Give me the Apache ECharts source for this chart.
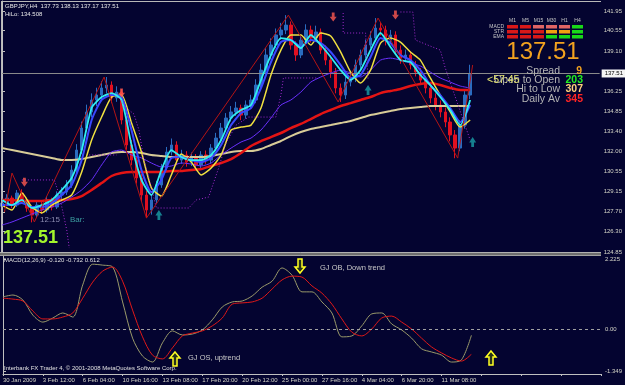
<!DOCTYPE html>
<html>
<head>
<meta charset="utf-8">
<script src="https://cdn.jsdelivr.net/npm/echarts@6/dist/echarts.min.js"></script>
<style>
html, body { margin: 0; padding: 0; background: #040430; }
#chart { width: 625px; height: 385px; }
</style>
</head>
<body>
<div id="chart"></div>
<script>
var chart = echarts.init(document.getElementById('chart'));

// GBPJPY H4 - one candle for every 2 bars
var candleStep = 2;
var opens = [128.10,128.32,128.68,128.18,129.03,128.54,127.97,127.47,128.18,127.83,
  128.54,128.04,128.89,129.10,129.60,130.66,132.08,133.64,134.78,135.63,
  135.98,136.48,136.69,135.77,136.19,134.21,132.44,131.37,130.10,128.89,
  127.83,128.54,129.60,130.81,131.94,132.44,131.37,131.73,131.23,131.51,
  131.02,131.73,131.37,132.22,132.93,133.64,134.35,134.78,135.06,134.56,
  135.27,135.63,136.69,137.75,138.82,139.53,140.24,140.59,140.94,139.53,
  138.82,139.88,140.59,140.02,140.45,139.17,138.46,137.61,136.48,135.98,
  136.90,137.19,138.11,138.82,139.53,140.02,140.73,140.59,139.88,140.24,
  139.17,138.60,138.82,138.11,137.61,137.04,136.48,135.77,135.27,134.78,
  134.07,133.15,132.22,133.85,135.98];
var closes = [128.32,128.68,128.18,129.03,128.54,127.97,127.47,128.18,127.83,128.54,
  128.04,128.89,129.10,129.60,130.66,132.08,133.64,134.78,135.63,135.98,
  136.48,136.69,135.77,136.19,134.21,132.44,131.37,130.10,128.89,127.83,
  128.54,129.60,130.81,131.94,132.44,131.37,131.73,131.23,131.51,131.02,
  131.73,131.37,132.22,132.93,133.64,134.35,134.78,135.06,134.56,135.27,
  135.63,136.69,137.75,138.82,139.53,140.24,140.59,140.94,139.53,138.82,
  139.88,140.59,140.02,140.45,139.17,138.46,137.61,136.48,135.98,136.90,
  137.19,138.11,138.82,139.53,140.02,140.73,140.59,139.88,140.24,139.17,
  138.60,138.82,138.11,137.61,137.04,136.48,135.77,135.27,134.78,134.07,
  133.15,132.22,133.85,135.98,137.51];
var highs = [128.55,128.95,128.85,129.25,129.30,128.70,128.10,128.40,128.45,128.80,
  128.70,129.15,129.45,129.95,131.00,132.50,134.10,135.30,136.10,136.50,
  136.95,137.26,136.95,136.60,136.40,134.50,132.80,131.60,130.40,129.20,
  128.90,129.90,131.10,132.30,132.90,132.70,132.10,132.00,131.90,131.80,
  132.00,132.05,132.50,133.30,134.00,134.70,135.20,135.50,135.30,135.60,
  136.00,137.10,138.20,139.30,140.00,140.70,141.10,141.65,141.20,139.80,
  140.20,141.00,140.90,140.90,140.70,139.50,138.80,137.90,136.80,137.30,
  137.60,138.50,139.20,139.90,140.50,141.44,141.10,140.90,140.60,140.50,
  139.50,139.20,139.10,138.40,137.90,137.30,136.80,136.10,135.60,135.10,
  134.40,133.50,134.20,136.40,138.13];
var lows = [127.90,128.15,127.95,128.05,128.35,127.70,126.95,127.30,127.55,127.65,
  127.80,127.90,128.60,128.90,129.40,130.40,131.80,133.40,134.40,135.20,
  135.60,136.10,135.40,135.50,133.90,132.10,131.00,129.70,128.40,127.25,
  127.50,128.30,129.40,130.60,131.70,131.00,131.10,130.90,130.95,130.70,
  130.80,131.10,131.15,132.00,132.70,133.40,134.10,134.50,134.20,134.30,
  135.00,135.40,136.50,137.50,138.50,139.30,139.90,140.30,139.20,138.40,
  138.60,139.60,139.70,139.80,138.90,138.10,137.20,136.10,135.49,135.70,
  136.60,136.90,137.80,138.60,139.30,139.80,140.20,139.50,139.60,138.90,
  138.20,138.30,137.80,137.30,136.70,136.10,135.40,134.90,134.40,133.70,
  132.70,131.50,132.00,133.60,135.70];

// moving averages, one point every 4 bars
var lineStep = 4;
var maCyan = [128.54,128.18,128.54,127.97,128.18,128.54,129.25,130.10,132.08,135.06,
  135.84,136.12,135.63,132.44,129.96,128.89,130.66,132.08,131.59,131.37,
  131.37,131.73,132.79,134.35,134.92,135.27,137.05,138.82,140.02,139.88,
  139.31,140.24,139.53,138.68,137.75,137.05,137.75,139.17,140.38,139.39,
  138.46,138.32,137.40,136.69,135.84,134.92,133.85,135.63];
var maBlue = [128.18,128.18,128.32,128.04,128.04,128.32,128.89,129.60,131.37,134.21,
  135.63,135.98,135.84,133.50,130.66,129.10,129.96,131.52,131.59,131.37,
  131.23,131.52,132.44,133.85,134.71,135.06,136.48,138.32,139.74,139.88,
  139.39,139.88,139.67,139.03,138.11,137.19,137.40,138.68,140.02,139.67,
  138.82,138.46,137.75,136.69,135.98,135.06,134.07,135.27];
var maYellow = [128.18,127.83,129.03,128.04,127.62,128.18,128.54,128.89,130.52,132.79,
  134.42,135.84,135.98,134.00,131.94,129.39,128.82,130.31,131.80,131.23,
  130.31,130.81,131.73,133.50,133.71,133.85,135.06,137.40,139.17,140.24,
  140.24,139.53,140.38,140.17,139.03,137.61,136.83,137.75,139.67,140.02,
  139.74,139.03,138.46,137.19,135.98,134.78,133.71,134.21];
var maViolet = [126.76,126.98,127.26,127.54,127.83,128.04,128.32,128.75,129.25,129.96,
  131.02,131.94,132.08,131.73,131.52,131.16,130.88,130.95,131.16,131.09,
  130.95,131.16,131.73,132.22,132.65,132.93,133.50,134.35,135.27,135.63,
  136.19,136.90,137.26,137.54,137.75,137.54,137.26,137.75,138.46,138.60,
  138.46,138.25,138.04,137.61,137.19,136.90,136.62,136.48];
var maRed = [128.54,128.54,128.47,128.47,128.47,128.54,128.54,128.61,128.82,129.25,
  129.74,130.24,130.45,130.52,130.52,130.52,130.52,130.59,130.59,130.66,
  130.73,130.95,131.16,131.44,131.87,132.37,132.72,133.00,133.29,133.64,
  133.93,134.28,134.63,134.92,135.20,135.41,135.63,135.84,136.12,136.27,
  136.41,136.62,136.76,136.83,136.69,136.48,136.34,136.34];
var maBeige = [132.22,132.08,131.94,131.80,131.66,131.52,131.37,131.37,131.44,131.59,
  131.73,131.87,131.94,131.94,131.87,131.73,131.66,131.59,131.59,131.59,
  131.59,131.66,131.80,131.94,132.01,132.01,132.15,132.44,132.72,133.07,
  133.36,133.57,133.71,133.85,134.00,134.14,134.35,134.56,134.71,134.85,
  134.99,135.06,135.13,135.20,135.20,135.20,135.20,135.20];

// zigzag turning points [bar, price]
var zigzag = [[1,127.69],[4,130.45],[13,126.98],[41,137.26],[58,127.26],[115,141.65],
  [135,135.49],[151,141.44],[183,131.51],[189,138.11]];

// dotted trailing stop, pieces [bar, price]
var trailPieces = [
  [[8,129.96],[21,129.96],[23,128.89],[26,126.41],[27,125.13]],
  [[35,131.73],[46,131.73]],
  [[47,135.77],[50,135.06],[53,134.63],[55,133.50],[57,131.37],[59,130.10],[62,127.97],
   [75,127.97],[78,128.54],[83,128.75],[87,130.81],[90,132.58],[94,133.85],[99,134.42],
   [110,134.42],[112,135.98],[113,137.19],[127,137.19]],
  [[137,141.80],[137,140.38],[146,140.38],[147,137.05]],
  [[160,141.87],[165,141.87],[166,139.88],[176,139.17],[178,137.90],[188,132.79]]
];

// fractal arrows [bar, price]
var fractalDown = [[9,129.80],[48,136.12],[133,141.51],[158,141.65]];
var fractalUp = [[63,127.47],[147,136.34],[189,132.65]];

// MACD(12,26,9), one point every 4 bars
var macdMain = [1.02,1.08,0.92,0.44,0.22,0.35,0.51,0.38,1.40,2.06,
  2.03,1.97,0.86,-0.29,-0.86,-1.05,-0.44,-0.06,-0.19,-0.16,
  -0.03,0.29,0.70,0.86,0.89,1.05,1.33,1.52,1.94,1.71,
  1.18,1.18,0.86,0.51,-0.25,-0.22,0.10,0.48,0.51,0.16,
  -0.03,-0.29,-0.63,-0.73,-0.83,-1.05,-0.98,-0.20];
var macdSignal = [0.98,0.95,0.89,0.57,0.32,0.32,0.38,0.51,0.98,1.49,
  1.84,1.97,1.52,0.60,-0.25,-0.83,-0.95,-0.60,-0.22,-0.13,
  -0.06,0.10,0.35,0.79,0.83,0.86,0.98,1.27,1.56,1.68,
  1.65,1.37,1.14,0.79,0.32,-0.10,-0.22,0.00,0.35,0.41,
  0.22,0.00,-0.29,-0.57,-0.76,-0.92,-1.02,-0.80];

// axis ticks
var priceTicks = [124.85,126.30,127.70,129.15,130.55,132.00,133.40,134.85,136.25,139.10,140.55,141.95];
var macdTicks = [2.225, 0, -1.349];
var macdTickLabels = ['2.225', '0.00', '-1.349'];
var timeLabels = ['30 Jan 2009','3 Feb 12:00','6 Feb 04:00','10 Feb 16:00','13 Feb 08:00','17 Feb 20:00',
  '20 Feb 12:00','25 Feb 00:00','27 Feb 16:00','4 Mar 04:00','6 Mar 20:00','11 Mar 08:00'];
var lastPrice = 137.51;

// dashboard cells
var tfNames = ['M1','M5','M15','M30','H1','H4'];
var rowNames = ['MACD','STR','EMA'];
var cellColors = [
  ['#d81818','#d81818','#e06464','#e06464','#e06464','#18d818'],
  ['#d81818','#d81818','#d81818','#f0a010','#f0a010','#18d818'],
  ['#d81818','#d81818','#d81818','#18d818','#18d818','#18d818']
];

var FONT = 'Liberation Sans';
var AXIS_TXT = '#d6d6c8';

function pts(arr, step) {
  return arr.map(function (v, i) { return [i * step, v]; });
}

var candleData = closes.map(function (c, i) {
  return [i * candleStep, opens[i], c, lows[i], highs[i]];
});

function maSeries(data, color, width, z) {
  return {
    type: 'line', xAxisIndex: 0, yAxisIndex: 0, data: pts(data, lineStep),
    symbol: 'none', smooth: 0.2, z: z, silent: true,
    lineStyle: { color: color, width: width }
  };
}

var series = [
  {
    type: 'candlestick', xAxisIndex: 0, yAxisIndex: 0, data: candleData,
    encode: { x: 0, y: [1, 2, 3, 4] }, barWidth: 3, z: 2, silent: true,
    itemStyle: { color: '#2a6cc0', color0: '#e01020', borderColor: '#2a6cc0', borderColor0: '#e01020', borderWidth: 1 },
    markLine: {
      symbol: 'none', silent: true, data: [{ yAxis: lastPrice }],
      lineStyle: { color: '#8a8a8a', type: 'solid', width: 1 },
      label: { show: true, position: 'end', distance: 2, formatter: lastPrice.toFixed(2), fontFamily: FONT,
        fontSize: 6, color: '#000', backgroundColor: '#f4f4f4', padding: [1, 3] }
    }
  },
  maSeries(maBeige, '#d8cc98', 2, 3),
  maSeries(maRed, '#e41414', 2.5, 4),
  maSeries(maViolet, '#6a30ff', 1, 5),
  maSeries(maYellow, '#f0e040', 1.5, 6),
  maSeries(maBlue, '#3a48ff', 2, 7),
  maSeries(maCyan, '#30eef0', 1.8, 8),
  {
    type: 'line', xAxisIndex: 0, yAxisIndex: 0, data: zigzag, symbol: 'none', z: 9, silent: true,
    lineStyle: { color: '#b41414', width: 1 }
  },
  {
    type: 'scatter', xAxisIndex: 0, yAxisIndex: 0, data: fractalDown, z: 11, silent: true,
    symbol: 'path://M3,0 L7,0 L7,5 L10,5 L5,11 L0,5 L3,5 Z', symbolSize: [7, 9],
    itemStyle: { color: '#ff5a50' }
  },
  {
    type: 'scatter', xAxisIndex: 0, yAxisIndex: 0, data: fractalUp, z: 11, silent: true,
    symbol: 'path://M5,0 L10,6 L7,6 L7,11 L3,11 L3,6 L0,6 Z', symbolSize: [7, 10],
    itemStyle: { color: '#1aa0a8' }
  },
  {
    type: 'line', xAxisIndex: 1, yAxisIndex: 1, data: pts(macdMain, lineStep), symbol: 'none',
    smooth: 0.3, silent: true, z: 3, lineStyle: { color: '#9a9a6a', width: 1 },
    markLine: {
      symbol: 'none', silent: true, data: [{ yAxis: 0 }], label: { show: false },
      lineStyle: { color: '#a0a0a0', type: [3, 3], width: 1 }
    }
  },
  {
    type: 'line', xAxisIndex: 1, yAxisIndex: 1, data: pts(macdSignal, lineStep), symbol: 'none',
    smooth: 0.3, silent: true, z: 4, lineStyle: { color: '#e01818', width: 1 }
  }
];

trailPieces.forEach(function (piece) {
  series.push({
    type: 'line', xAxisIndex: 0, yAxisIndex: 0, data: piece, symbol: 'none', z: 10, silent: true,
    lineStyle: { color: '#a42ad0', width: 1, type: [1, 2] }
  });
});

function txt(x, y, text, fill, size, opts) {
  opts = opts || {};
  return {
    type: 'text', x: x, y: y, z: 100, silent: true,
    style: {
      text: text, fill: fill,
      font: (opts.weight || 'normal') + ' ' + size + 'px "' + FONT + '"',
      align: opts.align || 'left', textAlign: opts.align || 'left',
      verticalAlign: 'middle', textVerticalAlign: 'middle'
    }
  };
}

function hollowArrow(x, y, up) {
  var p = up
    ? [[5, 0], [10, 6], [7, 6], [7, 14], [3, 14], [3, 6], [0, 6]]
    : [[3, 0], [7, 0], [7, 8], [10, 8], [5, 14], [0, 8], [3, 8]];
  return {
    type: 'polygon', x: x, y: y, z: 100, silent: true, shape: { points: p },
    style: { fill: 'rgba(70,90,10,0.55)', stroke: '#ffff22', lineWidth: 1.5 }
  };
}

var graphics = [
  // frame and panel separator
  { type: 'line', z: 50, silent: true, shape: { x1: 1, y1: 1.5, x2: 601, y2: 1.5 }, style: { stroke: '#b8b8b8', lineWidth: 1 } },
  { type: 'line', z: 50, silent: true, shape: { x1: 1.5, y1: 1, x2: 1.5, y2: 252 }, style: { stroke: '#b8b8b8', lineWidth: 1 } },
  { type: 'rect', z: 50, silent: true, shape: { x: 0, y: 252, width: 601, height: 4 }, style: { fill: '#6e6e6e' } },
  { type: 'line', z: 51, silent: true, shape: { x1: 0, y1: 252.5, x2: 601, y2: 252.5 }, style: { stroke: '#b0b0b0', lineWidth: 1 } },
  { type: 'line', z: 51, silent: true, shape: { x1: 0, y1: 255.5, x2: 601, y2: 255.5 }, style: { stroke: '#a0a0a0', lineWidth: 1 } },

  txt(5, 6.5, 'GBPJPY,H4  137.73 138.13 137.17 137.51', '#e8e8e8', 6),
  txt(5, 14, 'HiLo: 134.508', '#e8e8e8', 6),

  txt(543, 52, '137.51', '#f2a21f', 24, { align: 'center' }),
  txt(560, 71, 'Spread', '#b4b4b4', 10.5, { align: 'right' }),
  txt(582, 71, '9', '#f2a21f', 10.5, { align: 'right', weight: 'bold' }),
  txt(560, 80, 'Open to Open', '#b4b4b4', 10.5, { align: 'right' }),
  txt(487, 80, '<57:45', '#e8e870', 10.5),
  txt(583, 80, '203', '#22ee22', 10.5, { align: 'right', weight: 'bold' }),
  txt(560, 89.5, 'Hi to Low', '#b4b4b4', 10.5, { align: 'right' }),
  txt(583, 89.5, '307', '#ffd27a', 10.5, { align: 'right', weight: 'bold' }),
  txt(560, 99, 'Daily Av', '#b4b4b4', 10.5, { align: 'right' }),
  txt(583, 99, '345', '#ff2424', 10.5, { align: 'right', weight: 'bold' }),

  txt(40, 220, '12:15', '#8c8cb0', 8),
  txt(70, 220, 'Bar:', '#3c9ea0', 8),
  txt(3, 238, '137.51', '#a4f52c', 18, { weight: 'bold' }),

  txt(4, 260, 'MACD(12,26,9) -0.120 -0.732 0.612', '#e0e0e0', 6),
  txt(320, 268, 'GJ OB, Down trend', '#c8c8c8', 7.5),
  txt(188, 358, 'GJ OS, uptrend', '#c8c8c8', 7.5),
  txt(4, 368, 'Interbank FX Trader 4, \u00a9 2001-2008 MetaQuotes Software Corp.', '#e0e0e0', 6),
  hollowArrow(295, 259, false),
  hollowArrow(170, 352, true),
  hollowArrow(486, 351, true)
];

tfNames.forEach(function (name, c) {
  var x = 507 + c * 13;
  graphics.push(txt(x + 5.5, 21, name, '#c8c8c8', 5, { align: 'center' }));
  rowNames.forEach(function (row, r) {
    graphics.push({
      type: 'rect', z: 100, silent: true,
      shape: { x: x, y: 25 + r * 5, width: 11, height: 3.5 },
      style: { fill: cellColors[r][c] }
    });
  });
});
rowNames.forEach(function (row, r) {
  graphics.push(txt(504, 26.8 + r * 5, row, '#c8c8c8', 5, { align: 'right' }));
});

var option = {
  backgroundColor: '#040430',
  animation: false,
  grid: [
    { left: 2, right: 24, top: 1, bottom: 133 },
    { left: 2, right: 24, top: 256, bottom: 11 }
  ],
  xAxis: [
    {
      type: 'value', gridIndex: 0, min: 0, max: 240, interval: 16,
      axisLine: { show: false }, axisTick: { show: false }, axisLabel: { show: false }, splitLine: { show: false }
    },
    {
      type: 'value', gridIndex: 1, min: 0, max: 240, interval: 16,
      axisLine: { show: true, onZero: false, lineStyle: { color: '#c0c0c0', width: 1 } },
      axisTick: { show: true, length: 2, lineStyle: { color: '#c0c0c0' } },
      axisLabel: {
        show: true, align: 'left', margin: 3, fontSize: 6, fontFamily: FONT, color: AXIS_TXT,
        formatter: function (v) { return timeLabels[Math.round(v / 16)] || ''; }
      },
      splitLine: { show: false }
    }
  ],
  yAxis: [
    {
      type: 'value', gridIndex: 0, position: 'right', min: 124.85, max: 142.65, scale: true,
      axisLine: { show: true, lineStyle: { color: '#c0c0c0', width: 1 } },
      axisTick: { show: true, length: 3, customValues: priceTicks, lineStyle: { color: '#c0c0c0' } },
      axisLabel: {
        show: true, customValues: priceTicks, margin: 4, fontSize: 6, fontFamily: FONT, color: AXIS_TXT,
        formatter: function (v) { return v.toFixed(2); }
      },
      splitLine: { show: false }
    },
    {
      type: 'value', gridIndex: 1, position: 'right', min: -1.43, max: 2.32,
      axisLine: { show: true, lineStyle: { color: '#c0c0c0', width: 1 } },
      axisTick: { show: true, length: 3, customValues: macdTicks, lineStyle: { color: '#c0c0c0' } },
      axisLabel: {
        show: true, customValues: macdTicks, margin: 4, fontSize: 6, fontFamily: FONT, color: AXIS_TXT,
        formatter: function (v) {
          var i = macdTicks.indexOf(v);
          return i >= 0 ? macdTickLabels[i] : '';
        }
      },
      splitLine: { show: false }
    }
  ],
  series: series,
  graphic: graphics
};

chart.setOption(option);
</script>
</body>
</html>
